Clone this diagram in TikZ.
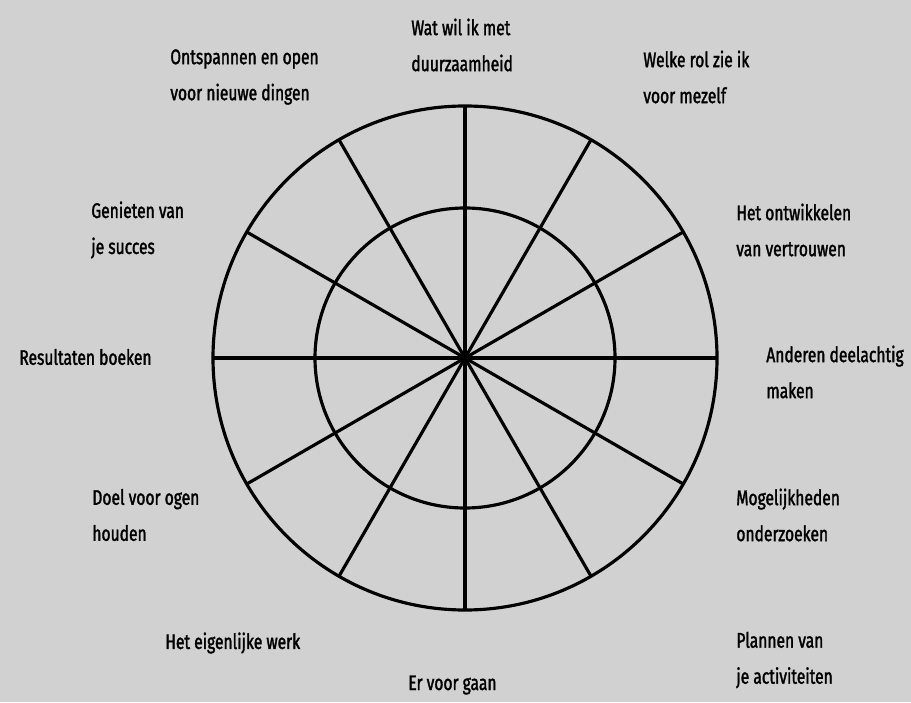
\documentclass[tikz,border=0pt]{standalone}
\usepackage{fontspec}
\setmainfont[FakeStretch=0.74,FakeBold=1.6]{Fira Sans}
\usepackage{tikz}
\usetikzlibrary{calc}

\definecolor{paper}{gray}{0.82}
\tikzset{
  lbl/.style={anchor=west, align=left, inner sep=0pt, font=\fontsize{12}{20.5}\selectfont},
  wheel/.style={line width=1.8pt}
}

\begin{document}
\begin{tikzpicture}[x=0.02cm, y=-0.02cm]
\fill[paper] (0,0) rectangle (911,702);
\coordinate (hub) at (465,358);
% the wheel
\draw[wheel] (hub) circle[radius=252];
\draw[wheel] (hub) circle[radius=150];
\foreach \a in {0,30,...,150}
  \draw[wheel] ($(hub)+(\a:252)$) -- ($(hub)+(\a+180:252)$);
\fill (hub) circle[radius=3];

% labels round it
\node[lbl] (wat) at (411,45) {Wat wil ik met\\duurzaamheid};
\node[lbl] (welke) at (643,77) {Welke rol zie ik\\voor mezelf};
\node[lbl] (ontspannen) at (170,77) {Ontspannen en open\\voor nieuwe dingen};
\node[lbl] (genieten) at (91,230) {Genieten van\\je succes};
\node[lbl] (ontwikkelen) at (736,230) {Het ontwikkelen\\van vertrouwen};
\node[lbl] (resultaten) at (19,357) {Resultaten boeken};
\node[lbl] (anderen) at (766,372) {Anderen deelachtig\\maken};
\node[lbl] (doel) at (92,515) {Doel voor ogen\\houden};
\node[lbl] (mogelijk) at (736,515) {Mogelijkheden\\onderzoeken};
\node[lbl] (werk) at (165,643) {Het eigenlijke werk};
\node[lbl] (gaan) at (408,685) {Er voor gaan};
\node[lbl] (plannen) at (736,660) {Plannen van\\je activiteiten};
\end{tikzpicture}
\end{document}
